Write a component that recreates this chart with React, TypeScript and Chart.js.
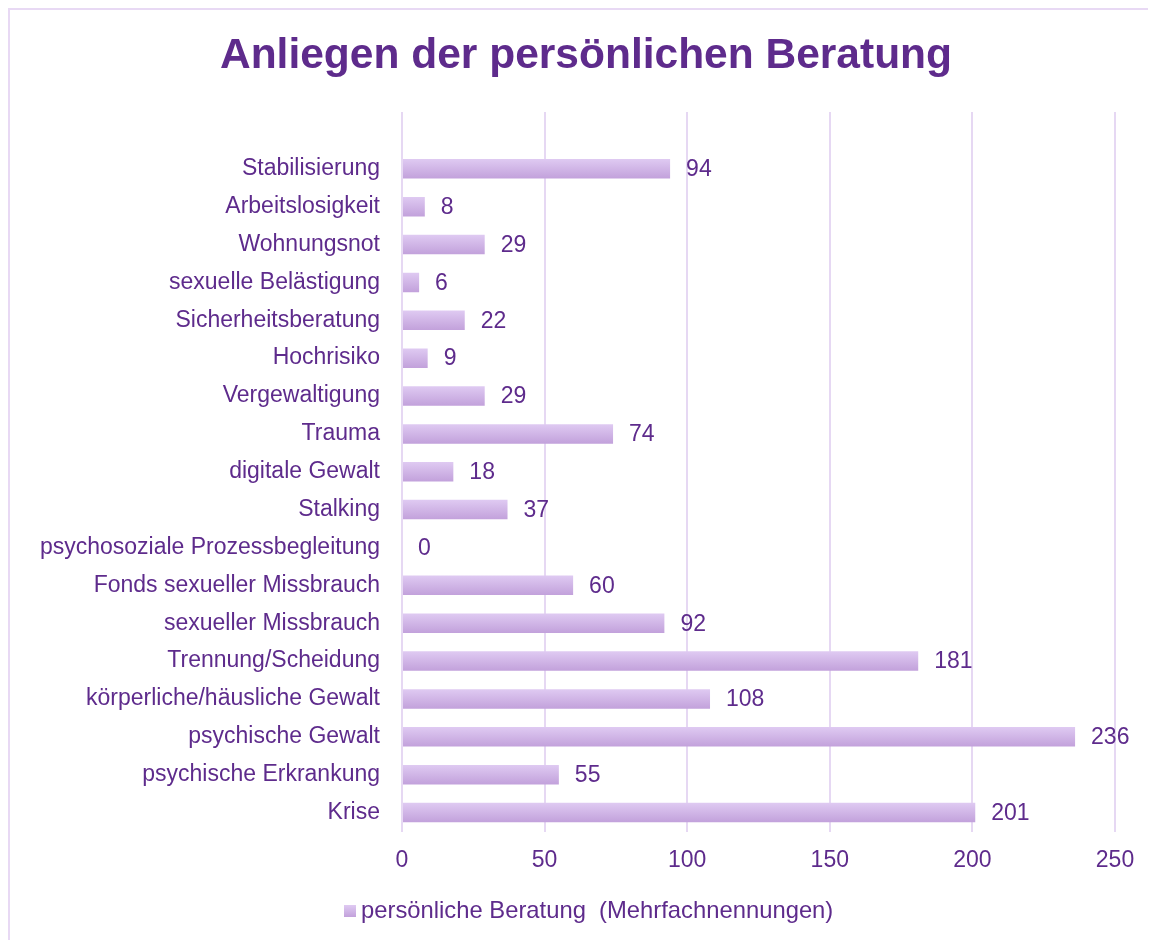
import React, { useEffect, useRef } from "react";
import { Chart, registerables } from "chart.js";

Chart.register(...registerables);

const TITLE = "Anliegen der persönlichen Beratung";
const SERIES_LABEL = "persönliche Beratung  (Mehrfachnennungen)";

const categories: string[] = [
  "",
  "Stabilisierung",
  "Arbeitslosigkeit",
  "Wohnungsnot",
  "sexuelle Belästigung",
  "Sicherheitsberatung",
  "Hochrisiko",
  "Vergewaltigung",
  "Trauma",
  "digitale Gewalt",
  "Stalking",
  "psychosoziale Prozessbegleitung",
  "Fonds sexueller Missbrauch",
  "sexueller Missbrauch",
  "Trennung/Scheidung",
  "körperliche/häusliche Gewalt",
  "psychische Gewalt",
  "psychische Erkrankung",
  "Krise",
];

const values: (number | null)[] = [
  null, 94, 8, 29, 6, 22, 9, 29, 74, 18, 37, 0, 60, 92, 181, 108, 236, 55, 201,
];

const xMin = 0;
const xMax = 250;
const xStep = 50;

const TEXT = "#5E2B8C";
const GRID = "#E6D8F3";
const BAR_TOP = "#DFCAF2";
const BAR_BOTTOM = "#C2A1DB";
const FONT = '"Liberation Sans", Arial, sans-serif';

export default function App() {
  const ref = useRef<HTMLCanvasElement | null>(null);

  useEffect(() => {
    document.documentElement.style.overflow = "hidden";
    document.body.style.overflow = "hidden";
    const canvas = ref.current;
    if (!canvas) return;

    const overlay = {
      id: "overlay",
      beforeDatasetsDraw(chart: any) {
        const ctx = chart.ctx;
        const meta = chart.getDatasetMeta(0);
        meta.data.forEach((el: any) => {
          if (!isFinite(el.y) || !el.height) return;
          const h = el.height / 2;
          const g = ctx.createLinearGradient(0, el.y - h, 0, el.y + h);
          g.addColorStop(0, BAR_TOP);
          g.addColorStop(1, BAR_BOTTOM);
          el.options = Object.assign({}, el.options, { backgroundColor: g });
        });
      },
      afterDatasetsDraw(chart: any) {
        const ctx = chart.ctx;
        const meta = chart.getDatasetMeta(0);
        ctx.save();
        ctx.fillStyle = TEXT;
        ctx.font = `23px ${FONT}`;
        ctx.textAlign = "left";
        ctx.textBaseline = "middle";
        meta.data.forEach((el: any, i: number) => {
          const v = values[i];
          if (v === null || v === undefined) return;
          ctx.fillText(String(v), el.x + 16, el.y + 1);
        });
        ctx.restore();
      },
      afterDraw(chart: any) {
        const ctx = chart.ctx;
        ctx.save();
        // title
        ctx.fillStyle = TEXT;
        ctx.font = `bold 42.5px ${FONT}`;
        ctx.textAlign = "center";
        ctx.textBaseline = "alphabetic";
        ctx.fillText(TITLE, 576, 58);
        // legend
        const g = ctx.createLinearGradient(0, 895, 0, 907);
        g.addColorStop(0, BAR_TOP);
        g.addColorStop(1, BAR_BOTTOM);
        ctx.fillStyle = g;
        ctx.fillRect(334, 895, 12, 12);
        ctx.fillStyle = TEXT;
        ctx.font = `23.8px ${FONT}`;
        ctx.textAlign = "left";
        ctx.fillText(SERIES_LABEL, 351, 908);
        ctx.restore();
      },
    };

    const chart = new Chart(canvas, {
      type: "bar",
      data: {
        labels: categories,
        datasets: [
          {
            label: SERIES_LABEL,
            data: values,
            barPercentage: 0.515,
            categoryPercentage: 1,
            borderWidth: 0,
            backgroundColor: "#D2B6E8",
          },
        ],
      },
      options: {
        indexAxis: "y",
        responsive: false,
        animation: false,
        devicePixelRatio: 1,
        layout: { padding: { top: 102, right: 41, left: 0, bottom: 0 } },
        plugins: {
          legend: { display: false },
          title: { display: false },
          tooltip: { enabled: false },
        },
        scales: {
          x: {
            min: xMin,
            max: xMax,
            afterFit: (s: any) => {
              s.height = 108.5;
            },
            grid: { color: GRID, lineWidth: 2, drawTicks: false },
            border: { display: false },
            ticks: {
              stepSize: xStep,
              padding: 15,
              color: TEXT,
              font: { family: FONT, size: 23 },
            },
          },
          y: {
            afterFit: (s: any) => {
              s.width = 392;
            },
            grid: { display: false, drawTicks: false },
            border: { display: false },
            ticks: {
              padding: 22,
              color: TEXT,
              font: { family: FONT, size: 23 },
              autoSkip: false,
            },
          },
        },
      },
      plugins: [overlay],
    } as any);

    return () => chart.destroy();
  }, []);

  return (
    <div
      style={{
        borderTop: "2px solid #E8D9F4",
        borderLeft: "2px solid #E8D9F4",
        width: 1200,
        height: 960,
        boxSizing: "border-box",
      }}
    >
      <canvas ref={ref} width={1146} height={930} style={{ display: "block" }} />
    </div>
  );
}
